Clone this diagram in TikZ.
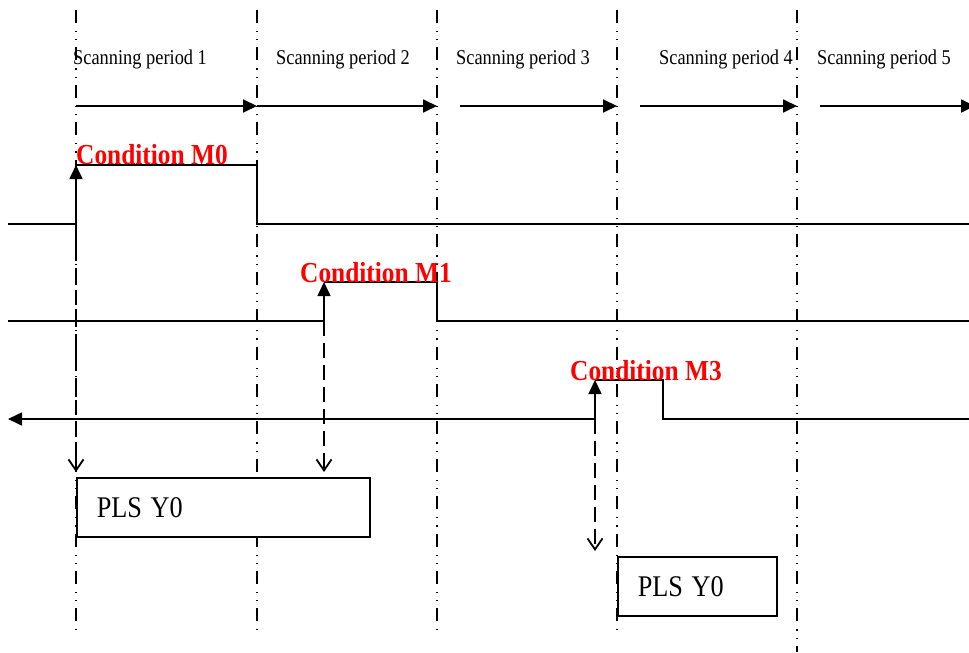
\documentclass[tikz,border=0pt]{standalone}
\usepackage{fontspec}
\setmainfont{Liberation Serif}
\usetikzlibrary{arrows.meta}
\newcommand{\hs}[1]{\scalebox{0.875}[1]{#1}}
\tikzset{
  grid/.style={line width=1.2pt, dash pattern=on 13pt off 8pt on 1.2pt off 7pt on 1.2pt off 7pt},
  sig/.style={line width=1.6pt},
  period/.style={line width=1.8pt, -{Triangle[length=14pt,width=13pt]}},
  uparrow/.style={line width=1.6pt, -{Triangle[length=14pt,width=13pt]}},
  downarrow/.style={line width=1.8pt, dash pattern=on 15pt off 7pt, -{Straight Barb[length=11pt,width=15pt,line width=1.8pt]}},
  plsbox/.style={draw, fill=white, line width=1.5pt, anchor=north west, align=left, inner xsep=20pt, inner ysep=0pt, font=\fontsize{30}{32}\selectfont},
  ptext/.style={anchor=base west, inner sep=0pt, font=\fontsize{21}{24}\selectfont},
  ctext/.style={anchor=base west, inner sep=0pt, text=red, font=\bfseries\fontsize{29}{32}\selectfont}
}
\begin{document}
\begin{tikzpicture}[x=1pt,y=-1pt]
\useasboundingbox (0,0) rectangle (969,653);
% vertical scan boundaries
\foreach \n/\x/\e in {1/76/630,2/257/630,3/437/630,4/617/630,5/797/652}{
  \coordinate (t\n) at (\x,10);
  \coordinate (u\n) at (\x,\e);
  \draw[grid] (t\n) -- (u\n);
}
% period labels
\node[ptext] (p1) at (73,64) {\hs{Scanning period 1}};
\node[ptext] (p2) at (276,64) {\hs{Scanning period 2}};
\node[ptext] (p3) at (456,64) {\hs{Scanning period 3}};
\node[ptext] (p4) at (659,64) {\hs{Scanning period 4}};
\node[ptext] (p5) at (817,64) {\hs{Scanning period 5}};
% period arrows
\coordinate (a0) at (76,106);
\coordinate (a1) at (257,106);
\coordinate (a2) at (437,106);
\coordinate (a3s) at (460,106);
\coordinate (a3) at (617,106);
\coordinate (a4s) at (640,106);
\coordinate (a4) at (797,106);
\coordinate (a5s) at (820,106);
\coordinate (a5) at (975,106);
\draw[period] (a0) -- (a1);
\draw[period] (a1) -- (a2);
\draw[period] (a3s) -- (a3);
\draw[period] (a4s) -- (a4);
\draw[period] (a5s) -- (a5);
% signal M0
\coordinate (m0a) at (8,224);
\coordinate (m0r) at (76,224);
\coordinate (m0t) at (76,165);
\coordinate (m0f) at (257,165);
\coordinate (m0g) at (257,224);
\coordinate (m0e) at (969,224);
\draw[sig] (m0a) -- (m0r) (m0t) -- (m0f) -- (m0g) -- (m0e);
\draw[uparrow] (m0r) -- (m0t);
\node[ctext] (c0) at (76,164) {\hs{Condition M0}};
% signal M1
\coordinate (m1a) at (8,321);
\coordinate (m1r) at (324,321);
\coordinate (m1t) at (324,282);
\coordinate (m1f) at (437,282);
\coordinate (m1g) at (437,321);
\coordinate (m1e) at (969,321);
\draw[sig] (m1a) -- (m1r) (m1t) -- (m1f) -- (m1g) -- (m1e);
\draw[uparrow] (m1r) -- (m1t);
\node[ctext] (c1) at (300,282) {\hs{Condition M1}};
% signal M3
\coordinate (m3a) at (8,419);
\coordinate (m3r) at (595,419);
\coordinate (m3t) at (595,380);
\coordinate (m3f) at (663,380);
\coordinate (m3g) at (663,419);
\coordinate (m3e) at (969,419);
\draw[uparrow] (m3r) -- (m3a);
\draw[sig] (m3t) -- (m3f) -- (m3g) -- (m3e);
\draw[uparrow] (m3r) -- (m3t);
\node[ctext] (c3) at (570,380) {\hs{Condition M3}};
% PLS boxes
\node[plsbox, minimum width=293pt, minimum height=59pt, text width=253pt] (b1) at (76,477) {\hs{PLS Y0}};
\node[plsbox, minimum width=159pt, minimum height=59pt, text width=119pt] (b2) at (617,556) {\hs{PLS Y0}};
% dashed trigger arrows
\coordinate (d0) at (76,472);
\coordinate (d1) at (324,472);
\coordinate (d3) at (595,551);
\draw[downarrow] (m0r) -- (d0);
\draw[downarrow] (m1r) -- (d1);
\draw[downarrow] (m3r) -- (d3);
\end{tikzpicture}
\end{document}
